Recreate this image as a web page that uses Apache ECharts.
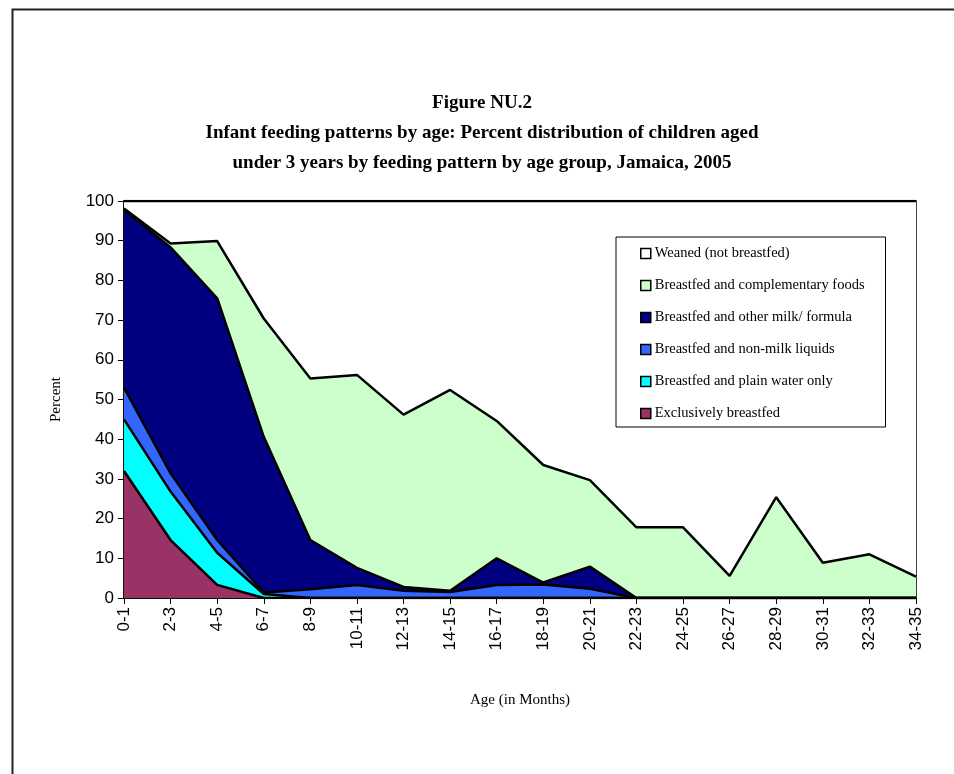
<!DOCTYPE html>
<html>
<head>
<meta charset="utf-8">
<script src="https://cdn.jsdelivr.net/npm/echarts@6/dist/echarts.min.js"></script>
<style>html,body{margin:0;padding:0;background:#fff}#c{width:954px;height:774px}</style>
</head>
<body>
<div id="c"></div>
<script>
const categories = ['0-1','2-3','4-5','6-7','8-9','10-11','12-13','14-15','16-17','18-19','20-21','22-23','24-25','26-27','28-29','30-31','32-33','34-35'];
const exclusivelyBreastfed = [32.0, 14.6, 3.3, 0, 0, 0, 0, 0, 0, 0, 0, 0, 0, 0, 0, 0, 0, 0];
const plainWater = [13.0, 12.2, 8.1, 1.0, 0, 0, 0, 0, 0, 0, 0, 0, 0, 0, 0, 0, 0, 0];
const nonMilkLiquids = [8.0, 4.6, 3.2, 0.4, 2.2, 3.3, 1.8, 1.5, 3.3, 3.4, 2.3, 0, 0, 0, 0, 0, 0, 0];
const otherMilk = [44.8, 56.9, 60.9, 39.2, 12.4, 4.3, 1.0, 0.3, 6.7, 0.5, 5.6, 0, 0, 0, 0, 0, 0, 0];
const complementary = [0.3, 1.0, 14.4, 29.8, 40.7, 48.6, 43.4, 50.6, 34.6, 29.6, 21.8, 17.8, 17.8, 5.6, 25.4, 8.9, 11.0, 5.4];
const weaned = categories.map((_, i) => +(100 - exclusivelyBreastfed[i] - plainWater[i] - nonMilkLiquids[i] - otherMilk[i] - complementary[i]).toFixed(1));
const yTicks = [0, 10, 20, 30, 40, 50, 60, 70, 80, 90, 100];

const seriesDefs = [
  ['Exclusively breastfed', exclusivelyBreastfed, '#993366'],
  ['Breastfed and plain water only', plainWater, '#00FFFF'],
  ['Breastfed and non-milk liquids', nonMilkLiquids, '#3366FF'],
  ['Breastfed and other milk/ formula', otherMilk, '#000080'],
  ['Breastfed and complementary foods', complementary, '#CCFFCC'],
  ['Weaned (not breastfed)', weaned, '#FFFFFF']
];

const chart = echarts.init(document.getElementById('c'));
chart.setOption({
  animation: false,
  backgroundColor: '#fff',
  graphic: [{
    type: 'rect', left: 10, top: 7, shape: {width: 980, height: 820},
    style: {fill: 'none', stroke: '#222', lineWidth: 2}, silent: true
  }],
  title: {
    text: 'Figure NU.2\nInfant feeding patterns by age: Percent distribution of children aged\nunder 3 years by feeding pattern by age group, Jamaica, 2005',
    left: 477, top: 83, textAlign: 'center',
    textStyle: {fontFamily: 'Liberation Serif', fontWeight: 'bold', fontSize: 19, lineHeight: 30, color: '#000'}
  },
  legend: {
    orient: 'vertical', left: 616, top: 237,
    padding: [9, 21, 6, 24],
    itemWidth: 10, itemHeight: 10, itemGap: 17,
    borderColor: '#000', borderWidth: 1,
    icon: 'rect',
    itemStyle: {borderColor: '#000', borderWidth: 1.5},
    textStyle: {fontFamily: 'Liberation Serif', fontSize: 14.5, color: '#000', padding: [0, 0, 0, -1]},
    data: seriesDefs.slice().reverse().map(d => d[0])
  },
  grid: {left: 124, right: 38, top: 201, bottom: 176, show: true, borderColor: '#000', borderWidth: 1.5, backgroundColor: 'transparent'},
  xAxis: {
    type: 'category', data: categories, boundaryGap: false,
    name: 'Age (in Months)', nameLocation: 'middle', nameGap: 95,
    nameTextStyle: {fontFamily: 'Liberation Serif', fontSize: 15, color: '#000'},
    axisLine: {lineStyle: {color: '#000', width: 1.5}},
    axisTick: {show: true, alignWithLabel: true, length: 6, lineStyle: {color: '#000'}},
    axisLabel: {rotate: 90, fontFamily: 'Liberation Sans', fontSize: 17, color: '#000', margin: 9, interval: 0}
  },
  yAxis: {
    type: 'value', min: yTicks[0], max: yTicks[yTicks.length - 1], interval: 10,
    name: 'Percent', nameLocation: 'middle', nameGap: 60,
    nameTextStyle: {fontFamily: 'Liberation Serif', fontSize: 15, color: '#000'},
    axisLine: {show: true, lineStyle: {color: '#000', width: 1.5}},
    axisTick: {show: true, length: 6, lineStyle: {color: '#000'}},
    axisLabel: {fontFamily: 'Liberation Sans', fontSize: 17, color: '#000', margin: 10},
    splitLine: {show: false}
  },
  series: seriesDefs.map(([name, data, color]) => ({
    name, type: 'line', stack: 'total', data,
    symbol: 'none', smooth: false,
    itemStyle: {color},
    lineStyle: {color: '#000', width: 2.5},
    areaStyle: {color, opacity: 1}
  }))
});
</script>
</body>
</html>
